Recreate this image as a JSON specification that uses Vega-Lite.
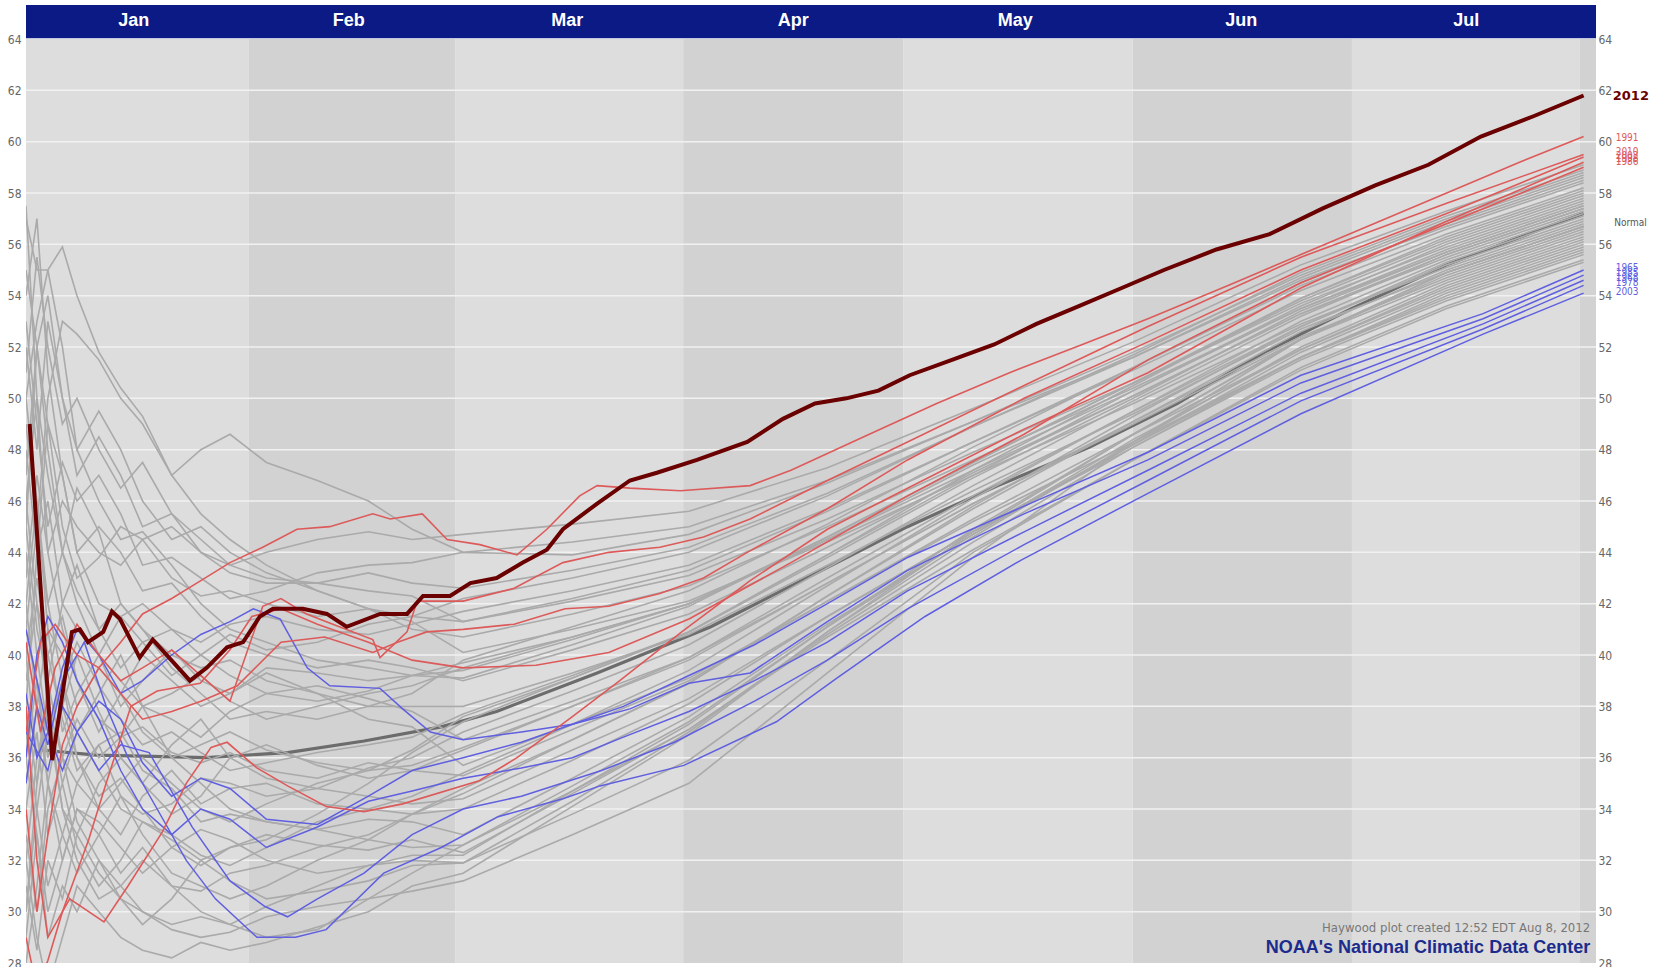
{
"$schema":"https://vega.github.io/schema/vega-lite/v6.json",
"width":1570,"height":958,
"autosize":{"type":"none"},
"padding":{"left":26,"top":5,"right":64,"bottom":4},
"background":"#ffffff",
"config":{"view":{"stroke":null}},
"datasets":{
"bands":[{"m":"Jan","s":0,"e":30.6,"t":"a"},{"m":"Feb","s":30.6,"e":58.9,"t":"b"},{"m":"Mar","s":58.9,"e":90.2,"t":"a"},{"m":"Apr","s":90.2,"e":120.4,"t":"b"},{"m":"May","s":120.4,"e":151.9,"t":"a"},{"m":"Jun","s":151.9,"e":182,"t":"b"},{"m":"Jul","s":182,"e":213.3,"t":"a"},{"m":"Aug","s":213.3,"e":215.5,"t":"b"}],
"grid":[{"g":30},{"g":32},{"g":34},{"g":36},{"g":38},{"g":40},{"g":42},{"g":44},{"g":46},{"g":48},{"g":50},{"g":52},{"g":54},{"g":56},{"g":58},{"g":60},{"g":62}],
"months":[{"m":"Jan","c":14.8},{"m":"Feb","c":44.3},{"m":"Mar","c":74.3},{"m":"Apr","c":105.3},{"m":"May","c":135.8},{"m":"Jun","c":166.8},{"m":"Jul","c":197.7}],
"normal":[{"d":2,"v":36.3},{"d":9.7,"v":36.1},{"d":24.7,"v":36.0},{"d":35.9,"v":36.2},{"d":46.4,"v":36.65},{"d":57,"v":37.2},{"d":64.6,"v":37.8},{"d":78.4,"v":39.3},{"d":94,"v":41.1},{"d":103,"v":42.4},{"d":121,"v":45.0},{"d":133.4,"v":46.6},{"d":146,"v":48.1},{"d":158,"v":49.8},{"d":170,"v":51.8},{"d":182,"v":53.5},{"d":195,"v":55.2},{"d":209,"v":56.7},{"d":213.8,"v":57.2}],
"gray":[
{"s":"G1","d":0,"v":57.5},{"s":"G1","d":1.5,"v":50},{"s":"G1","d":3,"v":44},{"s":"G1","d":5,"v":46},{"s":"G1","d":7,"v":45},{"s":"G1","d":10,"v":44},{"s":"G1","d":13,"v":43.5},{"s":"G1","d":16,"v":44.5},{"s":"G1","d":20,"v":45},{"s":"G1","d":24,"v":44},{"s":"G1","d":28,"v":43.5},{"s":"G1","d":33,"v":44},{"s":"G1","d":40,"v":44.5},{"s":"G1","d":47,"v":44.8},{"s":"G1","d":53,"v":44.5},{"s":"G1","d":60,"v":44.7},{"s":"G1","d":75,"v":45.1},{"s":"G1","d":91,"v":45.6},{"s":"G1","d":110,"v":47.3},{"s":"G1","d":130,"v":49.6},{"s":"G1","d":152,"v":52.2},{"s":"G1","d":175,"v":55.2},{"s":"G1","d":195,"v":57.3},{"s":"G1","d":213.8,"v":59.1},
{"s":"G2","d":0,"v":41},{"s":"G2","d":1.5,"v":45},{"s":"G2","d":3,"v":50},{"s":"G2","d":5,"v":53},{"s":"G2","d":7,"v":52.5},{"s":"G2","d":10,"v":51.5},{"s":"G2","d":13,"v":50},{"s":"G2","d":16,"v":49},{"s":"G2","d":20,"v":47},{"s":"G2","d":24,"v":48},{"s":"G2","d":28,"v":48.6},{"s":"G2","d":33,"v":47.5},{"s":"G2","d":40,"v":46.8},{"s":"G2","d":47,"v":46},{"s":"G2","d":53,"v":44.9},{"s":"G2","d":60,"v":44.0},{"s":"G2","d":75,"v":43.9},{"s":"G2","d":91,"v":44.7},{"s":"G2","d":110,"v":46.7},{"s":"G2","d":130,"v":49.1},{"s":"G2","d":152,"v":51.8},{"s":"G2","d":175,"v":54.8},{"s":"G2","d":195,"v":57.0},{"s":"G2","d":213.8,"v":58.8},
{"s":"G3","d":0,"v":50},{"s":"G3","d":1.5,"v":53},{"s":"G3","d":3,"v":55},{"s":"G3","d":5,"v":55.9},{"s":"G3","d":7,"v":54},{"s":"G3","d":10,"v":51.8},{"s":"G3","d":13,"v":50.4},{"s":"G3","d":16,"v":49.3},{"s":"G3","d":20,"v":47},{"s":"G3","d":24,"v":45.5},{"s":"G3","d":28,"v":44.5},{"s":"G3","d":33,"v":43.5},{"s":"G3","d":40,"v":42.5},{"s":"G3","d":47,"v":41.8},{"s":"G3","d":53,"v":41.5},{"s":"G3","d":60,"v":41.3},{"s":"G3","d":75,"v":42.2},{"s":"G3","d":91,"v":43.3},{"s":"G3","d":110,"v":45.6},{"s":"G3","d":130,"v":48.3},{"s":"G3","d":152,"v":51.2},{"s":"G3","d":175,"v":54.4},{"s":"G3","d":195,"v":56.6},{"s":"G3","d":213.8,"v":58.4},
{"s":"G4","d":0,"v":57},{"s":"G4","d":1.5,"v":55},{"s":"G4","d":3,"v":55},{"s":"G4","d":5,"v":52},{"s":"G4","d":7,"v":48},{"s":"G4","d":10,"v":46},{"s":"G4","d":13,"v":44.5},{"s":"G4","d":16,"v":44.8},{"s":"G4","d":20,"v":43.5},{"s":"G4","d":24,"v":42},{"s":"G4","d":28,"v":41},{"s":"G4","d":33,"v":40.5},{"s":"G4","d":40,"v":39.8},{"s":"G4","d":47,"v":39.5},{"s":"G4","d":53,"v":39.2},{"s":"G4","d":60,"v":39.1},{"s":"G4","d":75,"v":40.4},{"s":"G4","d":91,"v":41.9},{"s":"G4","d":110,"v":44.6},{"s":"G4","d":130,"v":47.5},{"s":"G4","d":152,"v":50.6},{"s":"G4","d":175,"v":53.9},{"s":"G4","d":195,"v":56.2},{"s":"G4","d":213.8,"v":58.0},
{"s":"G5","d":0,"v":52},{"s":"G5","d":1.5,"v":48},{"s":"G5","d":3,"v":53},{"s":"G5","d":5,"v":50},{"s":"G5","d":7,"v":47},{"s":"G5","d":10,"v":48.5},{"s":"G5","d":13,"v":47},{"s":"G5","d":16,"v":45},{"s":"G5","d":20,"v":45.5},{"s":"G5","d":24,"v":44},{"s":"G5","d":28,"v":43.2},{"s":"G5","d":33,"v":42.8},{"s":"G5","d":40,"v":42.8},{"s":"G5","d":47,"v":42.5},{"s":"G5","d":53,"v":42.3},{"s":"G5","d":60,"v":41.3},{"s":"G5","d":75,"v":42.1},{"s":"G5","d":91,"v":43.1},{"s":"G5","d":110,"v":45.3},{"s":"G5","d":130,"v":47.9},{"s":"G5","d":152,"v":50.6},{"s":"G5","d":175,"v":53.7},{"s":"G5","d":195,"v":55.9},{"s":"G5","d":213.8,"v":57.7},
{"s":"G6","d":0,"v":46},{"s":"G6","d":1.5,"v":50},{"s":"G6","d":3,"v":47},{"s":"G6","d":5,"v":44},{"s":"G6","d":7,"v":46.5},{"s":"G6","d":10,"v":44.8},{"s":"G6","d":13,"v":42},{"s":"G6","d":16,"v":41},{"s":"G6","d":20,"v":39.5},{"s":"G6","d":24,"v":38.5},{"s":"G6","d":28,"v":37.5},{"s":"G6","d":33,"v":37.8},{"s":"G6","d":40,"v":37.5},{"s":"G6","d":47,"v":38},{"s":"G6","d":53,"v":38.5},{"s":"G6","d":60,"v":39.8},{"s":"G6","d":75,"v":41.1},{"s":"G6","d":91,"v":42.5},{"s":"G6","d":110,"v":45.1},{"s":"G6","d":130,"v":48.1},{"s":"G6","d":152,"v":51.2},{"s":"G6","d":175,"v":54.5},{"s":"G6","d":195,"v":56.8},{"s":"G6","d":213.8,"v":58.6},
{"s":"G7","d":0,"v":38},{"s":"G7","d":1.5,"v":44},{"s":"G7","d":3,"v":49},{"s":"G7","d":5,"v":47},{"s":"G7","d":7,"v":44},{"s":"G7","d":10,"v":45},{"s":"G7","d":13,"v":44},{"s":"G7","d":16,"v":42.5},{"s":"G7","d":20,"v":42.8},{"s":"G7","d":24,"v":41.5},{"s":"G7","d":28,"v":40.5},{"s":"G7","d":33,"v":40},{"s":"G7","d":40,"v":39.5},{"s":"G7","d":47,"v":39.8},{"s":"G7","d":53,"v":39.5},{"s":"G7","d":60,"v":39.0},{"s":"G7","d":75,"v":40.2},{"s":"G7","d":91,"v":41.6},{"s":"G7","d":110,"v":44.2},{"s":"G7","d":130,"v":47.1},{"s":"G7","d":152,"v":50.1},{"s":"G7","d":175,"v":53.3},{"s":"G7","d":195,"v":55.6},{"s":"G7","d":213.8,"v":57.4},
{"s":"G8","d":0,"v":47},{"s":"G8","d":1.5,"v":52},{"s":"G8","d":3,"v":49},{"s":"G8","d":5,"v":45},{"s":"G8","d":7,"v":43},{"s":"G8","d":10,"v":43.8},{"s":"G8","d":13,"v":45},{"s":"G8","d":16,"v":44.5},{"s":"G8","d":20,"v":43},{"s":"G8","d":24,"v":42.3},{"s":"G8","d":28,"v":42.5},{"s":"G8","d":33,"v":42},{"s":"G8","d":40,"v":41.5},{"s":"G8","d":47,"v":41.8},{"s":"G8","d":53,"v":41.3},{"s":"G8","d":60,"v":40.1},{"s":"G8","d":75,"v":41.0},{"s":"G8","d":91,"v":42.1},{"s":"G8","d":110,"v":44.4},{"s":"G8","d":130,"v":47.0},{"s":"G8","d":152,"v":49.8},{"s":"G8","d":175,"v":52.9},{"s":"G8","d":195,"v":55.1},{"s":"G8","d":213.8,"v":56.9},
{"s":"G9","d":0,"v":54},{"s":"G9","d":1.5,"v":57},{"s":"G9","d":3,"v":51},{"s":"G9","d":5,"v":47},{"s":"G9","d":7,"v":44},{"s":"G9","d":10,"v":42},{"s":"G9","d":13,"v":41.5},{"s":"G9","d":16,"v":40.5},{"s":"G9","d":20,"v":41},{"s":"G9","d":24,"v":40},{"s":"G9","d":28,"v":39.2},{"s":"G9","d":33,"v":38.5},{"s":"G9","d":40,"v":38.8},{"s":"G9","d":47,"v":38.3},{"s":"G9","d":53,"v":37.8},{"s":"G9","d":60,"v":36.7},{"s":"G9","d":75,"v":38.2},{"s":"G9","d":91,"v":39.9},{"s":"G9","d":110,"v":42.8},{"s":"G9","d":130,"v":45.9},{"s":"G9","d":152,"v":49.0},{"s":"G9","d":175,"v":52.3},{"s":"G9","d":195,"v":54.6},{"s":"G9","d":213.8,"v":56.4},
{"s":"G10","d":0,"v":49},{"s":"G10","d":1.5,"v":45},{"s":"G10","d":3,"v":42},{"s":"G10","d":5,"v":44},{"s":"G10","d":7,"v":42},{"s":"G10","d":10,"v":40},{"s":"G10","d":13,"v":38},{"s":"G10","d":16,"v":39},{"s":"G10","d":20,"v":40.2},{"s":"G10","d":24,"v":39},{"s":"G10","d":28,"v":38.5},{"s":"G10","d":33,"v":39.3},{"s":"G10","d":40,"v":38.5},{"s":"G10","d":47,"v":37.5},{"s":"G10","d":53,"v":37.2},{"s":"G10","d":60,"v":35.7},{"s":"G10","d":75,"v":37.3},{"s":"G10","d":91,"v":39.1},{"s":"G10","d":110,"v":42.1},{"s":"G10","d":130,"v":45.2},{"s":"G10","d":152,"v":48.3},{"s":"G10","d":175,"v":51.6},{"s":"G10","d":195,"v":53.9},{"s":"G10","d":213.8,"v":55.7},
{"s":"G11","d":0,"v":36},{"s":"G11","d":1.5,"v":33},{"s":"G11","d":3,"v":30},{"s":"G11","d":5,"v":32},{"s":"G11","d":7,"v":34},{"s":"G11","d":10,"v":33},{"s":"G11","d":13,"v":31.5},{"s":"G11","d":16,"v":32.5},{"s":"G11","d":20,"v":31},{"s":"G11","d":24,"v":30.8},{"s":"G11","d":28,"v":31.5},{"s":"G11","d":33,"v":31.8},{"s":"G11","d":40,"v":32.5},{"s":"G11","d":47,"v":33},{"s":"G11","d":53,"v":33.8},{"s":"G11","d":60,"v":34.6},{"s":"G11","d":75,"v":36.7},{"s":"G11","d":91,"v":38.9},{"s":"G11","d":110,"v":42.3},{"s":"G11","d":130,"v":45.8},{"s":"G11","d":152,"v":49.3},{"s":"G11","d":175,"v":52.8},{"s":"G11","d":195,"v":55.3},{"s":"G11","d":213.8,"v":57.1},
{"s":"G12","d":0,"v":40},{"s":"G12","d":1.5,"v":36},{"s":"G12","d":3,"v":37.5},{"s":"G12","d":5,"v":34},{"s":"G12","d":7,"v":33},{"s":"G12","d":10,"v":31.5},{"s":"G12","d":13,"v":30.5},{"s":"G12","d":16,"v":30},{"s":"G12","d":20,"v":29.5},{"s":"G12","d":24,"v":29.8},{"s":"G12","d":28,"v":29.5},{"s":"G12","d":33,"v":30.2},{"s":"G12","d":40,"v":31},{"s":"G12","d":47,"v":31.8},{"s":"G12","d":53,"v":32.2},{"s":"G12","d":60,"v":32.2},{"s":"G12","d":75,"v":34.7},{"s":"G12","d":91,"v":37.3},{"s":"G12","d":110,"v":41.1},{"s":"G12","d":130,"v":44.9},{"s":"G12","d":152,"v":48.6},{"s":"G12","d":175,"v":52.3},{"s":"G12","d":195,"v":54.8},{"s":"G12","d":213.8,"v":56.6},
{"s":"G13","d":0,"v":32},{"s":"G13","d":1.5,"v":36},{"s":"G13","d":3,"v":38},{"s":"G13","d":5,"v":35},{"s":"G13","d":7,"v":37},{"s":"G13","d":10,"v":35.5},{"s":"G13","d":13,"v":34},{"s":"G13","d":16,"v":33.5},{"s":"G13","d":20,"v":32.8},{"s":"G13","d":24,"v":32},{"s":"G13","d":28,"v":32.5},{"s":"G13","d":33,"v":32.8},{"s":"G13","d":40,"v":33.8},{"s":"G13","d":47,"v":35.0},{"s":"G13","d":53,"v":36.2},{"s":"G13","d":60,"v":37.4},{"s":"G13","d":75,"v":39.1},{"s":"G13","d":91,"v":40.9},{"s":"G13","d":110,"v":43.9},{"s":"G13","d":130,"v":47.2},{"s":"G13","d":152,"v":50.5},{"s":"G13","d":175,"v":53.9},{"s":"G13","d":195,"v":56.3},{"s":"G13","d":213.8,"v":58.1},
{"s":"G14","d":0,"v":33},{"s":"G14","d":1.5,"v":30},{"s":"G14","d":3,"v":34},{"s":"G14","d":5,"v":36},{"s":"G14","d":7,"v":35},{"s":"G14","d":10,"v":36.5},{"s":"G14","d":13,"v":37},{"s":"G14","d":16,"v":35.5},{"s":"G14","d":20,"v":34.8},{"s":"G14","d":24,"v":33.5},{"s":"G14","d":28,"v":33.8},{"s":"G14","d":33,"v":33.5},{"s":"G14","d":40,"v":33.2},{"s":"G14","d":47,"v":33.6},{"s":"G14","d":53,"v":33.5},{"s":"G14","d":60,"v":33.0},{"s":"G14","d":75,"v":35.2},{"s":"G14","d":91,"v":37.6},{"s":"G14","d":110,"v":41.2},{"s":"G14","d":130,"v":44.7},{"s":"G14","d":152,"v":48.2},{"s":"G14","d":175,"v":51.8},{"s":"G14","d":195,"v":54.2},{"s":"G14","d":213.8,"v":56.0},
{"s":"G15","d":0,"v":44},{"s":"G15","d":1.5,"v":40},{"s":"G15","d":3,"v":37},{"s":"G15","d":5,"v":39},{"s":"G15","d":7,"v":40.5},{"s":"G15","d":10,"v":38.8},{"s":"G15","d":13,"v":37.5},{"s":"G15","d":16,"v":36.5},{"s":"G15","d":20,"v":37},{"s":"G15","d":24,"v":36.2},{"s":"G15","d":28,"v":35.5},{"s":"G15","d":33,"v":35.8},{"s":"G15","d":40,"v":36.2},{"s":"G15","d":47,"v":36.5},{"s":"G15","d":53,"v":36.8},{"s":"G15","d":60,"v":37.7},{"s":"G15","d":75,"v":39.2},{"s":"G15","d":91,"v":40.9},{"s":"G15","d":110,"v":43.8},{"s":"G15","d":130,"v":46.9},{"s":"G15","d":152,"v":50.0},{"s":"G15","d":175,"v":53.4},{"s":"G15","d":195,"v":55.7},{"s":"G15","d":213.8,"v":57.5},
{"s":"G16","d":0,"v":30},{"s":"G16","d":1.5,"v":34},{"s":"G16","d":3,"v":37},{"s":"G16","d":5,"v":39},{"s":"G16","d":7,"v":37},{"s":"G16","d":10,"v":38.5},{"s":"G16","d":13,"v":40},{"s":"G16","d":16,"v":38},{"s":"G16","d":20,"v":36},{"s":"G16","d":24,"v":35},{"s":"G16","d":28,"v":34},{"s":"G16","d":33,"v":33.5},{"s":"G16","d":40,"v":33.2},{"s":"G16","d":47,"v":32.8},{"s":"G16","d":53,"v":32.5},{"s":"G16","d":60,"v":32.6},{"s":"G16","d":75,"v":34.7},{"s":"G16","d":91,"v":37.1},{"s":"G16","d":110,"v":40.7},{"s":"G16","d":130,"v":44.1},{"s":"G16","d":152,"v":47.6},{"s":"G16","d":175,"v":51.1},{"s":"G16","d":195,"v":53.5},{"s":"G16","d":213.8,"v":55.3},
{"s":"G17","d":0,"v":42},{"s":"G17","d":1.5,"v":38},{"s":"G17","d":3,"v":35},{"s":"G17","d":5,"v":33},{"s":"G17","d":7,"v":31.5},{"s":"G17","d":10,"v":33},{"s":"G17","d":13,"v":34.5},{"s":"G17","d":16,"v":33},{"s":"G17","d":20,"v":31.5},{"s":"G17","d":24,"v":31},{"s":"G17","d":28,"v":30.5},{"s":"G17","d":33,"v":31},{"s":"G17","d":40,"v":32},{"s":"G17","d":47,"v":32.8},{"s":"G17","d":53,"v":33.8},{"s":"G17","d":60,"v":34.8},{"s":"G17","d":75,"v":36.7},{"s":"G17","d":91,"v":38.9},{"s":"G17","d":110,"v":42.3},{"s":"G17","d":130,"v":45.7},{"s":"G17","d":152,"v":49.1},{"s":"G17","d":175,"v":52.6},{"s":"G17","d":195,"v":55.0},{"s":"G17","d":213.8,"v":56.8},
{"s":"G18","d":0,"v":48},{"s":"G18","d":1.5,"v":44},{"s":"G18","d":3,"v":46},{"s":"G18","d":5,"v":42},{"s":"G18","d":7,"v":41},{"s":"G18","d":10,"v":40},{"s":"G18","d":13,"v":41.5},{"s":"G18","d":16,"v":42},{"s":"G18","d":20,"v":41},{"s":"G18","d":24,"v":40.5},{"s":"G18","d":28,"v":41.2},{"s":"G18","d":33,"v":41.5},{"s":"G18","d":40,"v":41},{"s":"G18","d":47,"v":40.8},{"s":"G18","d":53,"v":41.2},{"s":"G18","d":60,"v":41.7},{"s":"G18","d":75,"v":42.5},{"s":"G18","d":91,"v":43.5},{"s":"G18","d":110,"v":45.7},{"s":"G18","d":130,"v":48.3},{"s":"G18","d":152,"v":51.1},{"s":"G18","d":175,"v":54.2},{"s":"G18","d":195,"v":56.4},{"s":"G18","d":213.8,"v":58.2},
{"s":"G19","d":0,"v":39},{"s":"G19","d":1.5,"v":42},{"s":"G19","d":3,"v":38},{"s":"G19","d":5,"v":34},{"s":"G19","d":7,"v":32},{"s":"G19","d":10,"v":30.5},{"s":"G19","d":13,"v":31},{"s":"G19","d":16,"v":32},{"s":"G19","d":20,"v":31},{"s":"G19","d":24,"v":30},{"s":"G19","d":28,"v":29.5},{"s":"G19","d":33,"v":29},{"s":"G19","d":40,"v":29.3},{"s":"G19","d":47,"v":30.5},{"s":"G19","d":53,"v":31.5},{"s":"G19","d":60,"v":32.6},{"s":"G19","d":75,"v":34.9},{"s":"G19","d":91,"v":37.4},{"s":"G19","d":110,"v":41.1},{"s":"G19","d":130,"v":44.7},{"s":"G19","d":152,"v":48.4},{"s":"G19","d":175,"v":51.9},{"s":"G19","d":195,"v":54.4},{"s":"G19","d":213.8,"v":56.2},
{"s":"G20","d":0,"v":28},{"s":"G20","d":1.5,"v":31},{"s":"G20","d":3,"v":35},{"s":"G20","d":5,"v":38},{"s":"G20","d":7,"v":36},{"s":"G20","d":10,"v":34},{"s":"G20","d":13,"v":35},{"s":"G20","d":16,"v":36},{"s":"G20","d":20,"v":35},{"s":"G20","d":24,"v":34},{"s":"G20","d":28,"v":33.5},{"s":"G20","d":33,"v":34.2},{"s":"G20","d":40,"v":35},{"s":"G20","d":47,"v":35.5},{"s":"G20","d":53,"v":36.3},{"s":"G20","d":60,"v":37.6},{"s":"G20","d":75,"v":39.1},{"s":"G20","d":91,"v":40.9},{"s":"G20","d":110,"v":43.9},{"s":"G20","d":130,"v":47.0},{"s":"G20","d":152,"v":50.3},{"s":"G20","d":175,"v":53.6},{"s":"G20","d":195,"v":56.0},{"s":"G20","d":213.8,"v":57.8},
{"s":"G21","d":0,"v":35},{"s":"G21","d":1.5,"v":38},{"s":"G21","d":3,"v":41},{"s":"G21","d":5,"v":40},{"s":"G21","d":7,"v":38},{"s":"G21","d":10,"v":39.5},{"s":"G21","d":13,"v":38.5},{"s":"G21","d":16,"v":37},{"s":"G21","d":20,"v":36},{"s":"G21","d":24,"v":36.5},{"s":"G21","d":28,"v":37},{"s":"G21","d":33,"v":36.3},{"s":"G21","d":40,"v":35.8},{"s":"G21","d":47,"v":35.5},{"s":"G21","d":53,"v":35.7},{"s":"G21","d":60,"v":36.4},{"s":"G21","d":75,"v":38.0},{"s":"G21","d":91,"v":39.8},{"s":"G21","d":110,"v":42.8},{"s":"G21","d":130,"v":45.9},{"s":"G21","d":152,"v":49.1},{"s":"G21","d":175,"v":52.4},{"s":"G21","d":195,"v":54.7},{"s":"G21","d":213.8,"v":56.5},
{"s":"G22","d":0,"v":43},{"s":"G22","d":1.5,"v":47},{"s":"G22","d":3,"v":44},{"s":"G22","d":5,"v":41},{"s":"G22","d":7,"v":39},{"s":"G22","d":10,"v":37},{"s":"G22","d":13,"v":38.5},{"s":"G22","d":16,"v":40},{"s":"G22","d":20,"v":39},{"s":"G22","d":24,"v":38},{"s":"G22","d":28,"v":38.5},{"s":"G22","d":33,"v":39.5},{"s":"G22","d":40,"v":39.3},{"s":"G22","d":47,"v":39},{"s":"G22","d":53,"v":39.2},{"s":"G22","d":60,"v":39.7},{"s":"G22","d":75,"v":40.7},{"s":"G22","d":91,"v":42.0},{"s":"G22","d":110,"v":44.5},{"s":"G22","d":130,"v":47.2},{"s":"G22","d":152,"v":50.1},{"s":"G22","d":175,"v":53.3},{"s":"G22","d":195,"v":55.5},{"s":"G22","d":213.8,"v":57.3},
{"s":"G23","d":0,"v":37},{"s":"G23","d":1.5,"v":34},{"s":"G23","d":3,"v":31},{"s":"G23","d":5,"v":33},{"s":"G23","d":7,"v":35},{"s":"G23","d":10,"v":34},{"s":"G23","d":13,"v":33},{"s":"G23","d":16,"v":34.5},{"s":"G23","d":20,"v":35.5},{"s":"G23","d":24,"v":34.2},{"s":"G23","d":28,"v":34.8},{"s":"G23","d":33,"v":35},{"s":"G23","d":40,"v":34.2},{"s":"G23","d":47,"v":34},{"s":"G23","d":53,"v":33.8},{"s":"G23","d":60,"v":34.0},{"s":"G23","d":75,"v":35.9},{"s":"G23","d":91,"v":38.1},{"s":"G23","d":110,"v":41.5},{"s":"G23","d":130,"v":44.8},{"s":"G23","d":152,"v":48.2},{"s":"G23","d":175,"v":51.6},{"s":"G23","d":195,"v":54.0},{"s":"G23","d":213.8,"v":55.8},
{"s":"G24","d":0,"v":45},{"s":"G24","d":1.5,"v":41},{"s":"G24","d":3,"v":39},{"s":"G24","d":5,"v":42},{"s":"G24","d":7,"v":43.5},{"s":"G24","d":10,"v":41},{"s":"G24","d":13,"v":39.5},{"s":"G24","d":16,"v":40.5},{"s":"G24","d":20,"v":39.2},{"s":"G24","d":24,"v":40},{"s":"G24","d":28,"v":40.8},{"s":"G24","d":33,"v":40.2},{"s":"G24","d":40,"v":40.5},{"s":"G24","d":47,"v":41.2},{"s":"G24","d":53,"v":41.5},{"s":"G24","d":60,"v":42.2},{"s":"G24","d":75,"v":43.0},{"s":"G24","d":91,"v":44.0},{"s":"G24","d":110,"v":46.2},{"s":"G24","d":130,"v":48.9},{"s":"G24","d":152,"v":51.7},{"s":"G24","d":175,"v":54.9},{"s":"G24","d":195,"v":57.1},{"s":"G24","d":213.8,"v":58.9},
{"s":"G25","d":0,"v":31},{"s":"G25","d":1.5,"v":28.5},{"s":"G25","d":3,"v":32},{"s":"G25","d":5,"v":30.5},{"s":"G25","d":7,"v":33},{"s":"G25","d":10,"v":35},{"s":"G25","d":13,"v":36},{"s":"G25","d":16,"v":35},{"s":"G25","d":20,"v":33.8},{"s":"G25","d":24,"v":34.5},{"s":"G25","d":28,"v":36},{"s":"G25","d":33,"v":36.5},{"s":"G25","d":40,"v":35.7},{"s":"G25","d":47,"v":35.2},{"s":"G25","d":53,"v":35.5},{"s":"G25","d":60,"v":36.3},{"s":"G25","d":75,"v":38.0},{"s":"G25","d":91,"v":39.9},{"s":"G25","d":110,"v":43.0},{"s":"G25","d":130,"v":46.2},{"s":"G25","d":152,"v":49.5},{"s":"G25","d":175,"v":52.8},{"s":"G25","d":195,"v":55.2},{"s":"G25","d":213.8,"v":57.0},
{"s":"G26","d":0,"v":50},{"s":"G26","d":1.5,"v":46},{"s":"G26","d":3,"v":41},{"s":"G26","d":5,"v":37},{"s":"G26","d":7,"v":38.5},{"s":"G26","d":10,"v":40},{"s":"G26","d":13,"v":39},{"s":"G26","d":16,"v":38},{"s":"G26","d":20,"v":38.5},{"s":"G26","d":24,"v":39.2},{"s":"G26","d":28,"v":38.2},{"s":"G26","d":33,"v":37.5},{"s":"G26","d":40,"v":38},{"s":"G26","d":47,"v":38.5},{"s":"G26","d":53,"v":38.8},{"s":"G26","d":60,"v":39.5},{"s":"G26","d":75,"v":40.7},{"s":"G26","d":91,"v":42.0},{"s":"G26","d":110,"v":44.5},{"s":"G26","d":130,"v":47.4},{"s":"G26","d":152,"v":50.3},{"s":"G26","d":175,"v":53.5},{"s":"G26","d":195,"v":55.8},{"s":"G26","d":213.8,"v":57.6},
{"s":"G27","d":0,"v":41},{"s":"G27","d":1.5,"v":39},{"s":"G27","d":3,"v":36},{"s":"G27","d":5,"v":38},{"s":"G27","d":7,"v":40},{"s":"G27","d":10,"v":37.8},{"s":"G27","d":13,"v":36},{"s":"G27","d":16,"v":35},{"s":"G27","d":20,"v":36.5},{"s":"G27","d":24,"v":37.5},{"s":"G27","d":28,"v":36},{"s":"G27","d":33,"v":35.2},{"s":"G27","d":40,"v":34.8},{"s":"G27","d":47,"v":34.5},{"s":"G27","d":53,"v":34.2},{"s":"G27","d":60,"v":34.4},{"s":"G27","d":75,"v":36.3},{"s":"G27","d":91,"v":38.3},{"s":"G27","d":110,"v":41.5},{"s":"G27","d":130,"v":44.8},{"s":"G27","d":152,"v":48.1},{"s":"G27","d":175,"v":51.5},{"s":"G27","d":195,"v":53.8},{"s":"G27","d":213.8,"v":55.6},
{"s":"G28","d":0,"v":53},{"s":"G28","d":1.5,"v":49},{"s":"G28","d":3,"v":45},{"s":"G28","d":5,"v":47.5},{"s":"G28","d":7,"v":46},{"s":"G28","d":10,"v":47},{"s":"G28","d":13,"v":45.5},{"s":"G28","d":16,"v":43.5},{"s":"G28","d":20,"v":43.8},{"s":"G28","d":24,"v":43},{"s":"G28","d":28,"v":42.2},{"s":"G28","d":33,"v":42.5},{"s":"G28","d":40,"v":43.2},{"s":"G28","d":47,"v":43.5},{"s":"G28","d":53,"v":43.6},{"s":"G28","d":60,"v":44.0},{"s":"G28","d":75,"v":44.4},{"s":"G28","d":91,"v":45.0},{"s":"G28","d":110,"v":46.8},{"s":"G28","d":130,"v":49.1},{"s":"G28","d":152,"v":51.6},{"s":"G28","d":175,"v":54.6},{"s":"G28","d":195,"v":56.7},{"s":"G28","d":213.8,"v":58.5},
{"s":"G29","d":0,"v":29},{"s":"G29","d":1.5,"v":33},{"s":"G29","d":3,"v":29},{"s":"G29","d":5,"v":31},{"s":"G29","d":7,"v":30},{"s":"G29","d":10,"v":32},{"s":"G29","d":13,"v":30.5},{"s":"G29","d":16,"v":29.5},{"s":"G29","d":20,"v":30.5},{"s":"G29","d":24,"v":32},{"s":"G29","d":28,"v":31.2},{"s":"G29","d":33,"v":30.5},{"s":"G29","d":40,"v":30.8},{"s":"G29","d":47,"v":31.2},{"s":"G29","d":53,"v":31.8},{"s":"G29","d":60,"v":31.9},{"s":"G29","d":75,"v":34.3},{"s":"G29","d":91,"v":37.0},{"s":"G29","d":110,"v":40.9},{"s":"G29","d":130,"v":44.6},{"s":"G29","d":152,"v":48.3},{"s":"G29","d":175,"v":52.0},{"s":"G29","d":195,"v":54.5},{"s":"G29","d":213.8,"v":56.3},
{"s":"G30","d":0,"v":46},{"s":"G30","d":1.5,"v":42},{"s":"G30","d":3,"v":40},{"s":"G30","d":5,"v":41.5},{"s":"G30","d":7,"v":39},{"s":"G30","d":10,"v":37.5},{"s":"G30","d":13,"v":36.8},{"s":"G30","d":16,"v":38},{"s":"G30","d":20,"v":37.5},{"s":"G30","d":24,"v":36.8},{"s":"G30","d":28,"v":37.8},{"s":"G30","d":33,"v":38.5},{"s":"G30","d":40,"v":38.2},{"s":"G30","d":47,"v":38.6},{"s":"G30","d":53,"v":39.2},{"s":"G30","d":60,"v":39.4},{"s":"G30","d":75,"v":40.6},{"s":"G30","d":91,"v":42.0},{"s":"G30","d":110,"v":44.6},{"s":"G30","d":130,"v":47.5},{"s":"G30","d":152,"v":50.6},{"s":"G30","d":175,"v":53.8},{"s":"G30","d":195,"v":56.1},{"s":"G30","d":213.8,"v":57.9},
{"s":"G31","d":0,"v":55},{"s":"G31","d":1.5,"v":52},{"s":"G31","d":3,"v":48},{"s":"G31","d":5,"v":44},{"s":"G31","d":7,"v":42.5},{"s":"G31","d":10,"v":41},{"s":"G31","d":13,"v":42},{"s":"G31","d":16,"v":41},{"s":"G31","d":20,"v":40},{"s":"G31","d":24,"v":39.5},{"s":"G31","d":28,"v":39.8},{"s":"G31","d":33,"v":39},{"s":"G31","d":40,"v":38.5},{"s":"G31","d":47,"v":38},{"s":"G31","d":53,"v":38},{"s":"G31","d":60,"v":38.0},{"s":"G31","d":75,"v":39.3},{"s":"G31","d":91,"v":40.8},{"s":"G31","d":110,"v":43.5},{"s":"G31","d":130,"v":46.4},{"s":"G31","d":152,"v":49.4},{"s":"G31","d":175,"v":52.7},{"s":"G31","d":195,"v":54.9},{"s":"G31","d":213.8,"v":56.7},
{"s":"G32","d":0,"v":34},{"s":"G32","d":1.5,"v":37},{"s":"G32","d":3,"v":33},{"s":"G32","d":5,"v":35},{"s":"G32","d":7,"v":32.5},{"s":"G32","d":10,"v":31},{"s":"G32","d":13,"v":32},{"s":"G32","d":16,"v":33.5},{"s":"G32","d":20,"v":33},{"s":"G32","d":24,"v":32.2},{"s":"G32","d":28,"v":31.8},{"s":"G32","d":33,"v":32.5},{"s":"G32","d":40,"v":33.5},{"s":"G32","d":47,"v":34},{"s":"G32","d":53,"v":34.5},{"s":"G32","d":60,"v":35.4},{"s":"G32","d":75,"v":37.3},{"s":"G32","d":91,"v":39.4},{"s":"G32","d":110,"v":42.7},{"s":"G32","d":130,"v":46.1},{"s":"G32","d":152,"v":49.5},{"s":"G32","d":175,"v":53.0},{"s":"G32","d":195,"v":55.4},{"s":"G32","d":213.8,"v":57.2},
{"s":"G33","d":0,"v":38},{"s":"G33","d":1.5,"v":35},{"s":"G33","d":3,"v":38},{"s":"G33","d":5,"v":36},{"s":"G33","d":7,"v":37.5},{"s":"G33","d":10,"v":36},{"s":"G33","d":13,"v":36.8},{"s":"G33","d":16,"v":37.2},{"s":"G33","d":20,"v":36.2},{"s":"G33","d":24,"v":35.8},{"s":"G33","d":28,"v":36.2},{"s":"G33","d":33,"v":35.5},{"s":"G33","d":40,"v":35.2},{"s":"G33","d":47,"v":35.8},{"s":"G33","d":53,"v":35.5},{"s":"G33","d":60,"v":35.3},{"s":"G33","d":75,"v":37.1},{"s":"G33","d":91,"v":39.0},{"s":"G33","d":110,"v":42.1},{"s":"G33","d":130,"v":45.3},{"s":"G33","d":152,"v":48.6},{"s":"G33","d":175,"v":51.9},{"s":"G33","d":195,"v":54.3},{"s":"G33","d":213.8,"v":56.1},
{"s":"G34","d":0,"v":51},{"s":"G34","d":1.5,"v":55.5},{"s":"G34","d":3,"v":52},{"s":"G34","d":5,"v":49},{"s":"G34","d":7,"v":50},{"s":"G34","d":10,"v":48},{"s":"G34","d":13,"v":46.5},{"s":"G34","d":16,"v":47.5},{"s":"G34","d":20,"v":45.5},{"s":"G34","d":24,"v":44.5},{"s":"G34","d":28,"v":43.5},{"s":"G34","d":33,"v":43},{"s":"G34","d":40,"v":42.8},{"s":"G34","d":47,"v":43.2},{"s":"G34","d":53,"v":42.8},{"s":"G34","d":60,"v":42.6},{"s":"G34","d":75,"v":43.3},{"s":"G34","d":91,"v":44.2},{"s":"G34","d":110,"v":46.3},{"s":"G34","d":130,"v":48.9},{"s":"G34","d":152,"v":51.6},{"s":"G34","d":175,"v":54.7},{"s":"G34","d":195,"v":56.9},{"s":"G34","d":213.8,"v":58.7},
{"s":"G35","d":0,"v":36},{"s":"G35","d":1.5,"v":39},{"s":"G35","d":3,"v":35},{"s":"G35","d":5,"v":32},{"s":"G35","d":7,"v":34},{"s":"G35","d":10,"v":33.5},{"s":"G35","d":13,"v":32.5},{"s":"G35","d":16,"v":31.5},{"s":"G35","d":20,"v":32.5},{"s":"G35","d":24,"v":33.2},{"s":"G35","d":28,"v":32.8},{"s":"G35","d":33,"v":32},{"s":"G35","d":40,"v":31.5},{"s":"G35","d":47,"v":31.8},{"s":"G35","d":53,"v":32},{"s":"G35","d":60,"v":31.9},{"s":"G35","d":75,"v":33.8},{"s":"G35","d":91,"v":35.9},{"s":"G35","d":110,"v":39.8},{"s":"G35","d":130,"v":44.0},{"s":"G35","d":152,"v":47.6},{"s":"G35","d":175,"v":51.2},{"s":"G35","d":195,"v":53.6},{"s":"G35","d":213.8,"v":55.4},
{"s":"G36","d":0,"v":40},{"s":"G36","d":1.5,"v":43},{"s":"G36","d":3,"v":40},{"s":"G36","d":5,"v":37.5},{"s":"G36","d":7,"v":35.5},{"s":"G36","d":10,"v":36.5},{"s":"G36","d":13,"v":34.5},{"s":"G36","d":16,"v":33.8},{"s":"G36","d":20,"v":34.2},{"s":"G36","d":24,"v":35.2},{"s":"G36","d":28,"v":35},{"s":"G36","d":33,"v":34.5},{"s":"G36","d":40,"v":34.8},{"s":"G36","d":47,"v":35.6},{"s":"G36","d":53,"v":36},{"s":"G36","d":60,"v":37.0},{"s":"G36","d":75,"v":38.6},{"s":"G36","d":91,"v":40.4},{"s":"G36","d":110,"v":43.4},{"s":"G36","d":130,"v":46.6},{"s":"G36","d":152,"v":49.9},{"s":"G36","d":175,"v":53.2},{"s":"G36","d":195,"v":55.6},{"s":"G36","d":213.8,"v":57.4},
{"s":"G37","d":0,"v":30},{"s":"G37","d":1.5,"v":35},{"s":"G37","d":3,"v":39},{"s":"G37","d":5,"v":36},{"s":"G37","d":7,"v":33.5},{"s":"G37","d":10,"v":32},{"s":"G37","d":13,"v":31},{"s":"G37","d":16,"v":30},{"s":"G37","d":20,"v":29.3},{"s":"G37","d":24,"v":29},{"s":"G37","d":28,"v":29.2},{"s":"G37","d":33,"v":29.8},{"s":"G37","d":40,"v":30.2},{"s":"G37","d":47,"v":30.5},{"s":"G37","d":53,"v":30.8},{"s":"G37","d":60,"v":31.2},{"s":"G37","d":75,"v":33.0},{"s":"G37","d":91,"v":35.0},{"s":"G37","d":110,"v":39.3},{"s":"G37","d":130,"v":43.8},{"s":"G37","d":152,"v":48.3},{"s":"G37","d":175,"v":52.3},{"s":"G37","d":195,"v":54.9},{"s":"G37","d":213.8,"v":56.7},
{"s":"G38","d":0,"v":32},{"s":"G38","d":1.5,"v":29},{"s":"G38","d":3,"v":27},{"s":"G38","d":5,"v":29},{"s":"G38","d":7,"v":31},{"s":"G38","d":10,"v":30},{"s":"G38","d":13,"v":29},{"s":"G38","d":16,"v":28.5},{"s":"G38","d":20,"v":28.2},{"s":"G38","d":24,"v":28.8},{"s":"G38","d":28,"v":28.5},{"s":"G38","d":33,"v":28.8},{"s":"G38","d":40,"v":29.4},{"s":"G38","d":47,"v":30.0},{"s":"G38","d":53,"v":31.0},{"s":"G38","d":60,"v":31.5},{"s":"G38","d":75,"v":34.1},{"s":"G38","d":91,"v":36.9},{"s":"G38","d":110,"v":40.9},{"s":"G38","d":130,"v":44.8},{"s":"G38","d":152,"v":48.6},{"s":"G38","d":175,"v":52.3},{"s":"G38","d":195,"v":54.9},{"s":"G38","d":213.8,"v":56.7},
{"s":"G39","d":0,"v":45},{"s":"G39","d":1.5,"v":52},{"s":"G39","d":3,"v":54},{"s":"G39","d":5,"v":50},{"s":"G39","d":7,"v":48},{"s":"G39","d":10,"v":49.5},{"s":"G39","d":13,"v":48},{"s":"G39","d":16,"v":46},{"s":"G39","d":20,"v":44.5},{"s":"G39","d":24,"v":45},{"s":"G39","d":28,"v":44},{"s":"G39","d":33,"v":43.2},{"s":"G39","d":40,"v":42.5},{"s":"G39","d":47,"v":41.8},{"s":"G39","d":53,"v":41.0},{"s":"G39","d":60,"v":40.7},{"s":"G39","d":75,"v":41.6},{"s":"G39","d":91,"v":42.7},{"s":"G39","d":110,"v":45.0},{"s":"G39","d":130,"v":47.6},{"s":"G39","d":152,"v":50.4},{"s":"G39","d":175,"v":53.5},{"s":"G39","d":195,"v":55.7},{"s":"G39","d":213.8,"v":57.5},
{"s":"G40","d":0,"v":42},{"s":"G40","d":1.5,"v":46},{"s":"G40","d":3,"v":42},{"s":"G40","d":5,"v":39},{"s":"G40","d":7,"v":36},{"s":"G40","d":10,"v":34.5},{"s":"G40","d":13,"v":35.2},{"s":"G40","d":16,"v":34},{"s":"G40","d":20,"v":32.5},{"s":"G40","d":24,"v":31.8},{"s":"G40","d":28,"v":32.5},{"s":"G40","d":33,"v":33},{"s":"G40","d":40,"v":32.6},{"s":"G40","d":47,"v":32.4},{"s":"G40","d":53,"v":32.8},{"s":"G40","d":60,"v":32.3},{"s":"G40","d":75,"v":34.6},{"s":"G40","d":91,"v":37.1},{"s":"G40","d":110,"v":40.8},{"s":"G40","d":130,"v":44.4},{"s":"G40","d":152,"v":48.1},{"s":"G40","d":175,"v":51.6},{"s":"G40","d":195,"v":54.1},{"s":"G40","d":213.8,"v":55.9}
],
"blue":[
{"s":"B1","d":0,"v":41},{"s":"B1","d":1.5,"v":39},{"s":"B1","d":3,"v":37},{"s":"B1","d":5,"v":35.5},{"s":"B1","d":7,"v":37},{"s":"B1","d":10,"v":38.2},{"s":"B1","d":13,"v":37.5},{"s":"B1","d":16,"v":35.8},{"s":"B1","d":20,"v":34.5},{"s":"B1","d":24,"v":35.2},{"s":"B1","d":28,"v":34.8},{"s":"B1","d":33,"v":33.6},{"s":"B1","d":40,"v":33.4},{"s":"B1","d":47,"v":34.5},{"s":"B1","d":53,"v":35.5},{"s":"B1","d":60,"v":36.0},{"s":"B1","d":68,"v":36.6},{"s":"B1","d":75,"v":37.3},{"s":"B1","d":82,"v":38.0},{"s":"B1","d":91,"v":39.2},{"s":"B1","d":100,"v":40.4},{"s":"B1","d":110,"v":42.0},{"s":"B1","d":121,"v":43.8},{"s":"B1","d":137,"v":45.8},{"s":"B1","d":154,"v":47.9},{"s":"B1","d":175,"v":50.9},{"s":"B1","d":200,"v":53.3},{"s":"B1","d":213.8,"v":55.0},
{"s":"B2","d":0,"v":38.5},{"s":"B2","d":1.5,"v":36},{"s":"B2","d":3,"v":37},{"s":"B2","d":5,"v":39.5},{"s":"B2","d":7,"v":41},{"s":"B2","d":10,"v":40},{"s":"B2","d":13,"v":38.5},{"s":"B2","d":16,"v":39},{"s":"B2","d":20,"v":40},{"s":"B2","d":24,"v":40.8},{"s":"B2","d":28,"v":41.3},{"s":"B2","d":31.2,"v":41.8},{"s":"B2","d":34.9,"v":41.4},{"s":"B2","d":38.6,"v":39.5},{"s":"B2","d":41.7,"v":38.8},{"s":"B2","d":48.6,"v":38.7},{"s":"B2","d":51.7,"v":37.9},{"s":"B2","d":55.5,"v":37.0},{"s":"B2","d":60,"v":36.7},{"s":"B2","d":68,"v":37.0},{"s":"B2","d":75,"v":37.3},{"s":"B2","d":82.9,"v":37.9},{"s":"B2","d":91,"v":38.9},{"s":"B2","d":99.4,"v":39.3},{"s":"B2","d":110,"v":41.3},{"s":"B2","d":121,"v":43.3},{"s":"B2","d":137,"v":45.5},{"s":"B2","d":154,"v":47.6},{"s":"B2","d":175,"v":50.6},{"s":"B2","d":200,"v":53.1},{"s":"B2","d":213.8,"v":54.8},
{"s":"B3","d":0,"v":36},{"s":"B3","d":1.5,"v":40},{"s":"B3","d":3,"v":41.5},{"s":"B3","d":5,"v":40.5},{"s":"B3","d":7,"v":39},{"s":"B3","d":10,"v":37.5},{"s":"B3","d":13,"v":35.5},{"s":"B3","d":16,"v":34.0},{"s":"B3","d":20,"v":33.0},{"s":"B3","d":24,"v":34.0},{"s":"B3","d":28,"v":33.6},{"s":"B3","d":33,"v":32.5},{"s":"B3","d":40,"v":33.3},{"s":"B3","d":47,"v":34.3},{"s":"B3","d":53,"v":34.7},{"s":"B3","d":60,"v":35.2},{"s":"B3","d":68,"v":35.6},{"s":"B3","d":75,"v":36.0},{"s":"B3","d":82,"v":36.8},{"s":"B3","d":91,"v":37.8},{"s":"B3","d":100,"v":39.0},{"s":"B3","d":110,"v":40.5},{"s":"B3","d":121,"v":42.5},{"s":"B3","d":137,"v":44.8},{"s":"B3","d":154,"v":47.2},{"s":"B3","d":175,"v":50.2},{"s":"B3","d":200,"v":52.9},{"s":"B3","d":213.8,"v":54.6},
{"s":"B4","d":0,"v":37},{"s":"B4","d":3,"v":35.5},{"s":"B4","d":5,"v":38},{"s":"B4","d":7,"v":37},{"s":"B4","d":10,"v":35.5},{"s":"B4","d":13,"v":36.5},{"s":"B4","d":16.9,"v":36.2},{"s":"B4","d":22.8,"v":33.3},{"s":"B4","d":28,"v":31.2},{"s":"B4","d":32.8,"v":30.2},{"s":"B4","d":35.9,"v":29.8},{"s":"B4","d":40,"v":30.5},{"s":"B4","d":46.4,"v":31.5},{"s":"B4","d":53,"v":33.0},{"s":"B4","d":60,"v":34.0},{"s":"B4","d":68,"v":34.5},{"s":"B4","d":79,"v":35.5},{"s":"B4","d":89,"v":36.6},{"s":"B4","d":100,"v":38.2},{"s":"B4","d":110,"v":39.8},{"s":"B4","d":121,"v":41.8},{"s":"B4","d":137,"v":44.3},{"s":"B4","d":154,"v":46.8},{"s":"B4","d":175,"v":49.9},{"s":"B4","d":200,"v":52.7},{"s":"B4","d":213.8,"v":54.4},
{"s":"B5","d":0,"v":35},{"s":"B5","d":1.5,"v":38},{"s":"B5","d":3,"v":36.5},{"s":"B5","d":5,"v":39},{"s":"B5","d":8,"v":40.5},{"s":"B5","d":11,"v":38},{"s":"B5","d":14,"v":36},{"s":"B5","d":18,"v":34},{"s":"B5","d":22,"v":32},{"s":"B5","d":26,"v":30.5},{"s":"B5","d":31.7,"v":29.0},{"s":"B5","d":37,"v":29.0},{"s":"B5","d":41.2,"v":29.3},{"s":"B5","d":49.1,"v":31.5},{"s":"B5","d":57,"v":32.5},{"s":"B5","d":64.8,"v":33.7},{"s":"B5","d":73.7,"v":34.4},{"s":"B5","d":78.8,"v":34.9},{"s":"B5","d":90.3,"v":35.7},{"s":"B5","d":103,"v":37.4},{"s":"B5","d":111.3,"v":39.1},{"s":"B5","d":123.4,"v":41.5},{"s":"B5","d":136.6,"v":43.7},{"s":"B5","d":154,"v":46.3},{"s":"B5","d":175,"v":49.4},{"s":"B5","d":200,"v":52.5},{"s":"B5","d":213.8,"v":54.1}
],
"red":[
{"s":"R1","d":0,"v":37},{"s":"R1","d":2,"v":40.5},{"s":"R1","d":4,"v":41.2},{"s":"R1","d":7,"v":40.0},{"s":"R1","d":10,"v":39.5},{"s":"R1","d":13,"v":40.5},{"s":"R1","d":16,"v":41.6},{"s":"R1","d":20,"v":42.2},{"s":"R1","d":24,"v":42.9},{"s":"R1","d":28,"v":43.6},{"s":"R1","d":32.5,"v":44.2},{"s":"R1","d":37.2,"v":44.9},{"s":"R1","d":41.7,"v":45.0},{"s":"R1","d":47.6,"v":45.5},{"s":"R1","d":50,"v":45.3},{"s":"R1","d":54.4,"v":45.5},{"s":"R1","d":57.8,"v":44.5},{"s":"R1","d":62.3,"v":44.3},{"s":"R1","d":67.4,"v":43.9},{"s":"R1","d":71.5,"v":44.9},{"s":"R1","d":76,"v":46.2},{"s":"R1","d":78.4,"v":46.6},{"s":"R1","d":82.9,"v":46.5},{"s":"R1","d":89.8,"v":46.4},{"s":"R1","d":99.4,"v":46.6},{"s":"R1","d":105,"v":47.2},{"s":"R1","d":115,"v":48.5},{"s":"R1","d":125,"v":49.8},{"s":"R1","d":135,"v":51.0},{"s":"R1","d":145,"v":52.1},{"s":"R1","d":154,"v":53.1},{"s":"R1","d":165,"v":54.4},{"s":"R1","d":175,"v":55.6},{"s":"R1","d":185,"v":56.8},{"s":"R1","d":195,"v":58.0},{"s":"R1","d":205,"v":59.2},{"s":"R1","d":213.8,"v":60.2},
{"s":"R2","d":0,"v":40.5},{"s":"R2","d":2,"v":37},{"s":"R2","d":4,"v":39.5},{"s":"R2","d":7,"v":41.2},{"s":"R2","d":10,"v":40.0},{"s":"R2","d":13,"v":39.0},{"s":"R2","d":16,"v":39.5},{"s":"R2","d":20,"v":40.2},{"s":"R2","d":24,"v":39.2},{"s":"R2","d":28,"v":38.2},{"s":"R2","d":32.5,"v":41.9},{"s":"R2","d":35,"v":42.2},{"s":"R2","d":38.5,"v":41.6},{"s":"R2","d":43,"v":41.1},{"s":"R2","d":47.6,"v":40.6},{"s":"R2","d":48.6,"v":39.9},{"s":"R2","d":52.3,"v":40.9},{"s":"R2","d":53.7,"v":42.1},{"s":"R2","d":60,"v":42.1},{"s":"R2","d":67,"v":42.6},{"s":"R2","d":73.7,"v":43.6},{"s":"R2","d":80,"v":44.0},{"s":"R2","d":87,"v":44.2},{"s":"R2","d":93,"v":44.6},{"s":"R2","d":99.4,"v":45.3},{"s":"R2","d":110,"v":46.8},{"s":"R2","d":121,"v":48.3},{"s":"R2","d":137,"v":50.5},{"s":"R2","d":154,"v":52.8},{"s":"R2","d":175,"v":55.5},{"s":"R2","d":195,"v":57.6},{"s":"R2","d":213.8,"v":59.5},
{"s":"R3","d":0,"v":34},{"s":"R3","d":1.5,"v":30},{"s":"R3","d":3,"v":33},{"s":"R3","d":5,"v":36.5},{"s":"R3","d":7,"v":38},{"s":"R3","d":10,"v":39.5},{"s":"R3","d":13,"v":38.5},{"s":"R3","d":16,"v":37.5},{"s":"R3","d":20,"v":37.8},{"s":"R3","d":24,"v":38.2},{"s":"R3","d":29,"v":38.8},{"s":"R3","d":35,"v":40.5},{"s":"R3","d":41,"v":40.7},{"s":"R3","d":47.6,"v":40.1},{"s":"R3","d":51,"v":40.5},{"s":"R3","d":55,"v":40.9},{"s":"R3","d":60,"v":41.0},{"s":"R3","d":67,"v":41.2},{"s":"R3","d":74,"v":41.8},{"s":"R3","d":80,"v":41.9},{"s":"R3","d":87,"v":42.4},{"s":"R3","d":93,"v":43.0},{"s":"R3","d":99,"v":44.0},{"s":"R3","d":110,"v":45.7},{"s":"R3","d":121,"v":47.6},{"s":"R3","d":137,"v":50.0},{"s":"R3","d":154,"v":52.2},{"s":"R3","d":175,"v":55.0},{"s":"R3","d":195,"v":57.2},{"s":"R3","d":213.8,"v":59.4},
{"s":"R4","d":0,"v":38},{"s":"R4","d":1.5,"v":32},{"s":"R4","d":3,"v":29},{"s":"R4","d":6,"v":30.5},{"s":"R4","d":10.7,"v":29.6},{"s":"R4","d":14,"v":31},{"s":"R4","d":18.7,"v":33.1},{"s":"R4","d":22,"v":35},{"s":"R4","d":25.4,"v":36.4},{"s":"R4","d":27.6,"v":36.6},{"s":"R4","d":31.7,"v":35.6},{"s":"R4","d":35.9,"v":34.9},{"s":"R4","d":41.2,"v":34.1},{"s":"R4","d":46.4,"v":33.9},{"s":"R4","d":51.7,"v":34.2},{"s":"R4","d":62.2,"v":35.1},{"s":"R4","d":67.4,"v":36.0},{"s":"R4","d":75,"v":37.6},{"s":"R4","d":81.5,"v":39.0},{"s":"R4","d":90,"v":40.9},{"s":"R4","d":99.4,"v":42.9},{"s":"R4","d":110,"v":44.9},{"s":"R4","d":121,"v":46.5},{"s":"R4","d":137,"v":48.8},{"s":"R4","d":154,"v":51.0},{"s":"R4","d":175,"v":54.3},{"s":"R4","d":195,"v":56.9},{"s":"R4","d":213.8,"v":59.2},
{"s":"R5","d":0,"v":29},{"s":"R5","d":1.5,"v":27},{"s":"R5","d":3,"v":28.1},{"s":"R5","d":5,"v":30},{"s":"R5","d":8.6,"v":32.8},{"s":"R5","d":11,"v":35},{"s":"R5","d":14.4,"v":38.0},{"s":"R5","d":18,"v":38.6},{"s":"R5","d":23.9,"v":38.9},{"s":"R5","d":28,"v":40.2},{"s":"R5","d":31,"v":41.5},{"s":"R5","d":35,"v":41.8},{"s":"R5","d":40,"v":41.2},{"s":"R5","d":47,"v":40.5},{"s":"R5","d":53,"v":39.8},{"s":"R5","d":60,"v":39.5},{"s":"R5","d":70,"v":39.6},{"s":"R5","d":80,"v":40.1},{"s":"R5","d":91,"v":41.4},{"s":"R5","d":105,"v":43.6},{"s":"R5","d":121,"v":46.2},{"s":"R5","d":137,"v":48.6},{"s":"R5","d":154,"v":51.5},{"s":"R5","d":175,"v":54.5},{"s":"R5","d":195,"v":56.8},{"s":"R5","d":213.8,"v":59.0}
],
"y2012":[{"d":0.5,"v":49.0},{"d":3.6,"v":35.9},{"d":6.3,"v":40.9},{"d":7.4,"v":41.0},{"d":8.5,"v":40.5},{"d":10.6,"v":40.9},{"d":11.8,"v":41.7},{"d":12.9,"v":41.4},{"d":15.6,"v":39.9},{"d":17.4,"v":40.6},{"d":22.5,"v":39.0},{"d":24.8,"v":39.5},{"d":27.6,"v":40.3},{"d":29.8,"v":40.5},{"d":32.1,"v":41.5},{"d":33.9,"v":41.8},{"d":38,"v":41.8},{"d":41.3,"v":41.6},{"d":44,"v":41.1},{"d":48.6,"v":41.6},{"d":52.3,"v":41.6},{"d":54.5,"v":42.3},{"d":58.2,"v":42.3},{"d":61,"v":42.8},{"d":64.6,"v":43.0},{"d":68.2,"v":43.6},{"d":71.5,"v":44.1},{"d":73.7,"v":44.9},{"d":78.4,"v":45.9},{"d":82.9,"v":46.8},{"d":86.6,"v":47.1},{"d":92.1,"v":47.6},{"d":99,"v":48.3},{"d":103.9,"v":49.2},{"d":108.3,"v":49.8},{"d":112.6,"v":50.0},{"d":117,"v":50.3},{"d":121.3,"v":50.9},{"d":127.1,"v":51.5},{"d":132.9,"v":52.1},{"d":138.7,"v":52.9},{"d":144.6,"v":53.6},{"d":150.4,"v":54.3},{"d":156.2,"v":55.0},{"d":163.4,"v":55.8},{"d":170.7,"v":56.4},{"d":178,"v":57.4},{"d":185.2,"v":58.3},{"d":192.5,"v":59.1},{"d":199.7,"v":60.2},{"d":207,"v":61.0},{"d":213.8,"v":61.8}],
"labels":[{"t":"2012","v":61.78,"k":"y"},{"t":"1991","v":60.14,"k":"r"},{"t":"2010","v":59.58,"k":"r"},{"t":"2002","v":59.46,"k":"r"},{"t":"1998","v":59.32,"k":"r"},{"t":"1986","v":59.2,"k":"r"},{"t":"Normal","v":56.83,"k":"n"},{"t":"1965","v":55.08,"k":"b"},{"t":"1985","v":54.9,"k":"b"},{"t":"1968","v":54.7,"k":"b"},{"t":"1978","v":54.5,"k":"b"},{"t":"2003","v":54.15,"k":"b"}]
},
"layer":[
{"data":{"name":"bands"},"mark":{"type":"rect"},
 "encoding":{
  "x":{"field":"s","type":"quantitative","scale":{"domain":[0,215.5],"nice":false,"zero":false},"axis":{"title":null,"labels":false,"ticks":false,"grid":false,"domainColor":"#1b9bd7","domainWidth":3,"zindex":3}},
  "x2":{"field":"e"},
  "y":{"datum":28,"type":"quantitative","scale":{"domain":[28,65.325],"nice":false,"zero":false},"axis":null},
  "y2":{"datum":64},
  "color":{"field":"t","type":"nominal","scale":{"domain":["a","b"],"range":["#dddddd","#d2d2d2"]},"legend":null}}},
{"data":{"name":"grid"},"mark":{"type":"rule","color":"#f1f1f1","strokeWidth":1.5},
 "encoding":{"y":{"field":"g","type":"quantitative","axis":{"orient":"left","title":null,"values":[28,30,32,34,36,38,40,42,44,46,48,50,52,54,56,58,60,62,64],"grid":false,"domain":false,"ticks":false,"labelPadding":5,"labelFont":"Liberation Sans Narrow, DejaVu Sans Condensed, Liberation Sans, sans-serif","labelFontSize":12,"labelColor":"#666666"}}}},
{"data":{"name":"grid"},"mark":{"type":"rule","opacity":0},
 "encoding":{"y":{"field":"g","type":"quantitative","axis":{"orient":"right","title":null,"values":[28,30,32,34,36,38,40,42,44,46,48,50,52,54,56,58,60,62,64],"grid":false,"domain":false,"ticks":false,"labelPadding":2,"labelFont":"Liberation Sans Narrow, DejaVu Sans Condensed, Liberation Sans, sans-serif","labelFontSize":12,"labelColor":"#666666"}}}},
{"data":{"values":[{"h":"header"}]},"mark":{"type":"rect","color":"#0b1a84"},
 "encoding":{"x":{"datum":0,"type":"quantitative","axis":null},"x2":{"datum":215.5},"y":{"datum":64.03,"type":"quantitative","axis":null},"y2":{"datum":65.325}}},
{"data":{"name":"months"},"mark":{"type":"text","color":"#ffffff","font":"Liberation Sans, Arial, sans-serif","fontWeight":"bold","fontSize":18,"align":"center","baseline":"middle"},
 "encoding":{"x":{"field":"c","type":"quantitative","axis":null},"y":{"datum":64.7,"type":"quantitative","axis":null},"text":{"field":"m"}}},
{"data":{"name":"normal"},"mark":{"type":"line","color":"#6c6c6c","strokeWidth":3.2,"clip":true},
 "encoding":{"x":{"field":"d","type":"quantitative","axis":null},"y":{"field":"v","type":"quantitative","axis":null}}},
{"data":{"name":"gray"},"mark":{"type":"line","color":"#aaaaaa","strokeWidth":1.6,"clip":true},
 "encoding":{"x":{"field":"d","type":"quantitative","axis":null},"y":{"field":"v","type":"quantitative","axis":null},"detail":{"field":"s"}}},
{"data":{"name":"blue"},"mark":{"type":"line","color":"#5f5fe0","strokeWidth":1.5,"clip":true},
 "encoding":{"x":{"field":"d","type":"quantitative","axis":null},"y":{"field":"v","type":"quantitative","axis":null},"detail":{"field":"s"}}},
{"data":{"name":"red"},"mark":{"type":"line","color":"#dd5a5a","strokeWidth":1.6,"clip":true},
 "encoding":{"x":{"field":"d","type":"quantitative","axis":null},"y":{"field":"v","type":"quantitative","axis":null},"detail":{"field":"s"}}},
{"data":{"name":"y2012"},"mark":{"type":"line","color":"#6a0000","strokeWidth":4,"clip":true},
 "encoding":{"x":{"field":"d","type":"quantitative","axis":null},"y":{"field":"v","type":"quantitative","axis":null}}},
{"data":{"name":"labels"},"transform":[{"filter":{"field":"k","equal":"y"}}],"mark":{"type":"text","align":"left","baseline":"middle","font":"DejaVu Sans, sans-serif","fontWeight":"bold","fontSize":13,"color":"#6a0000"},
 "encoding":{"x":{"datum":217.8,"type":"quantitative","axis":null},"y":{"field":"v","type":"quantitative","axis":null},"text":{"field":"t"}}},
{"data":{"name":"labels"},"transform":[{"filter":{"field":"k","equal":"r"}}],"mark":{"type":"text","align":"left","baseline":"middle","font":"Liberation Sans Narrow, DejaVu Sans Condensed, sans-serif","fontSize":10,"color":"#dd5a5a"},
 "encoding":{"x":{"datum":218.2,"type":"quantitative","axis":null},"y":{"field":"v","type":"quantitative","axis":null},"text":{"field":"t"}}},
{"data":{"name":"labels"},"transform":[{"filter":{"field":"k","equal":"n"}}],"mark":{"type":"text","align":"left","baseline":"middle","font":"Liberation Sans Narrow, DejaVu Sans Condensed, sans-serif","fontSize":10,"color":"#555555"},
 "encoding":{"x":{"datum":218.0,"type":"quantitative","axis":null},"y":{"field":"v","type":"quantitative","axis":null},"text":{"field":"t"}}},
{"data":{"name":"labels"},"transform":[{"filter":{"field":"k","equal":"b"}}],"mark":{"type":"text","align":"left","baseline":"middle","font":"Liberation Sans Narrow, DejaVu Sans Condensed, sans-serif","fontSize":10,"color":"#5f5fe0"},
 "encoding":{"x":{"datum":218.2,"type":"quantitative","axis":null},"y":{"field":"v","type":"quantitative","axis":null},"text":{"field":"t"}}},
{"data":{"values":[{"n":"credit"}]},"mark":{"type":"text","text":"Haywood plot created 12:52 EDT Aug 8, 2012","align":"right","baseline":"middle","font":"Liberation Sans Narrow, DejaVu Sans Condensed, sans-serif","fontSize":13,"color":"#777777"},
 "encoding":{"x":{"datum":214.7,"type":"quantitative","axis":null},"y":{"datum":29.37,"type":"quantitative","axis":null}}},
{"data":{"values":[{"n":"source"}]},"mark":{"type":"text","text":"NOAA's National Climatic Data Center","align":"right","baseline":"middle","font":"Liberation Sans, Arial, sans-serif","fontWeight":"bold","fontSize":18,"color":"#1c2c8c"},
 "encoding":{"x":{"datum":214.7,"type":"quantitative","axis":null},"y":{"datum":28.6,"type":"quantitative","axis":null}}}
],
"resolve":{"axis":{"y":"independent"}}
}
